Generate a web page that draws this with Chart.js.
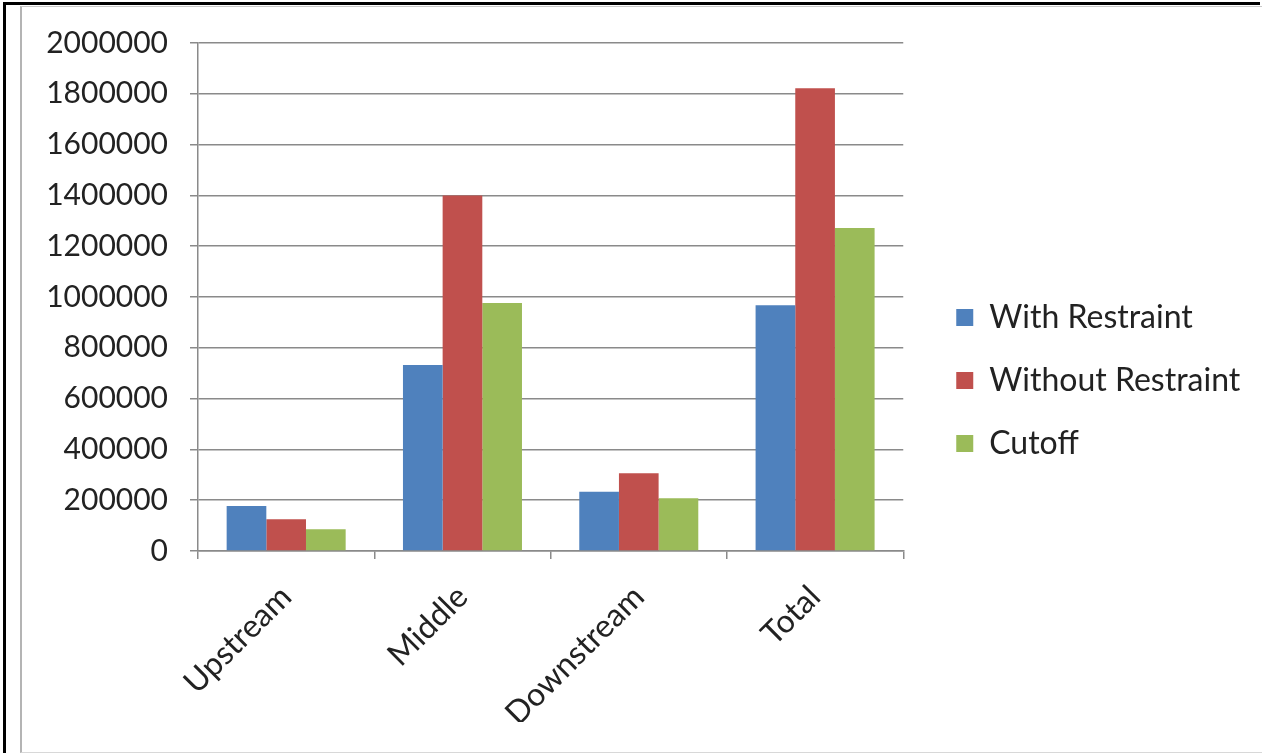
<!DOCTYPE html>
<html>
<head>
<meta charset="utf-8">
<script src="https://cdn.jsdelivr.net/npm/chart.js@4"></script>
<style>
  body { margin: 0; background: #fff; width: 1265px; height: 753px; overflow: hidden; position: relative; }
  #outer { position: absolute; left: 3px; top: 2px; width: 1257px; height: 751px; border-top: 3px solid #000; border-left: 3px solid #000; box-sizing: border-box; }
  #inner { position: absolute; left: 20px; top: 6px; width: 1242px; height: 747px; border-left: 2px solid #b4b4b4; border-top: 1px solid #c8c8c8; border-bottom: 1px solid #d8d8d8; box-sizing: border-box; }
  #chart-wrap { position: absolute; left: 22px; top: 7px; width: 1240px; height: 745px; }
</style>
</head>
<body>
<div id="outer"></div>
<div id="inner"></div>
<div id="chart-wrap"><canvas id="chart" width="1240" height="745"></canvas></div>
<script>
const categories = ["Upstream", "Middle", "Downstream", "Total"];
const withRestraint = [177000, 732000, 233000, 968000];
const withoutRestraint = [125000, 1400000, 306000, 1822000];
const cutoff = [86000, 976000, 208000, 1272000];

const yMin = 0;
const yMax = 2000000;
const yStep = 200000;

const gridColor = "#8a8a8a";
const textColor = "#222";
const font = { family: "Lato", size: 30 };

// nudge the legend to the right, like the Excel one (and widen its clip box)
const legendShift = {
  id: "legendShift",
  afterLayout(chart) {
    chart.legend.left += 22;
    chart.legend.right = chart.width;
    chart.legend.top -= 2;
    chart.legend.bottom -= 2;
  },
};

const ctx = document.getElementById("chart").getContext("2d");
const chart = new Chart(ctx, {
  type: "bar",
  data: {
    labels: categories,
    datasets: [
      { label: "With Restraint", data: withRestraint, backgroundColor: "#4F81BD" },
      { label: "Without Restraint", data: withoutRestraint, backgroundColor: "#C0504D" },
      { label: "Cutoff", data: cutoff, backgroundColor: "#9BBB59" },
    ],
  },
  options: {
    responsive: false,
    animation: false,
    layout: { autoPadding: false, padding: { left: 0, right: 65, top: 36, bottom: 30 } },
    datasets: {
      bar: { categoryPercentage: 0.675, barPercentage: 1.0 },
    },
    plugins: {
      legend: {
        position: "right",
        labels: {
          boxWidth: 17,
          boxHeight: 17,
          padding: 31,
          color: textColor,
          font: { family: "Lato", size: 32 },
        },
      },
      tooltip: { enabled: false },
    },
    scales: {
      x: {
        grid: {
          drawOnChartArea: false,
          drawTicks: true,
          tickLength: 8,
          color: gridColor,
          lineWidth: 1.5,
        },
        border: { color: gridColor, width: 1.5 },
        ticks: {
          color: textColor,
          font: { family: "Lato", size: 32 },
          minRotation: 45,
          maxRotation: 45,
          padding: 19,
        },
        afterFit(scale) {
          scale.height = 171;
        },
      },
      y: {
        min: yMin,
        max: yMax,
        grid: {
          color: gridColor,
          lineWidth: 1.5,
          tickLength: 8,
        },
        border: { color: gridColor, width: 1.5 },
        ticks: {
          stepSize: yStep,
          color: textColor,
          font: font,
          padding: 22,
          callback: (value) => String(value),
        },
        afterFit(scale) {
          scale.width = 176;
          scale.paddingTop = 0;
          scale.paddingBottom = 0;
        },
      },
    },
  },
  plugins: [legendShift],
});
</script>
</body>
</html>
